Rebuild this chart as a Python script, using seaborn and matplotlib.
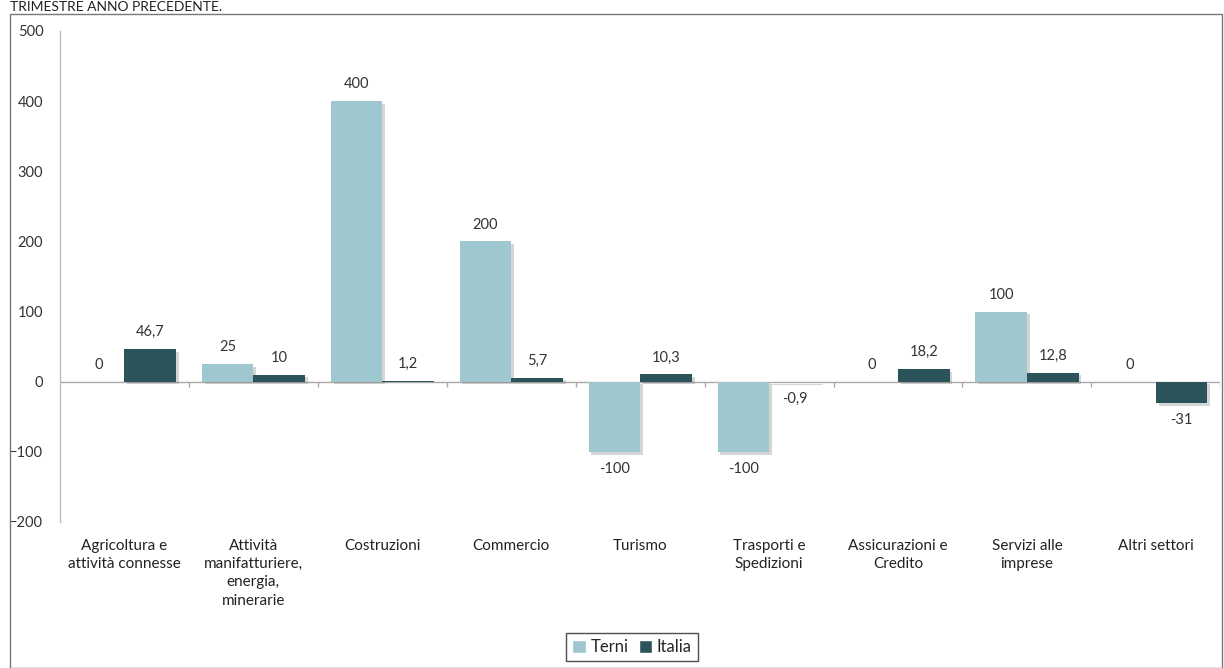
import matplotlib
matplotlib.use("Agg")
import matplotlib.pyplot as plt
import matplotlib.patheffects as pe
from matplotlib.patches import Rectangle
import seaborn as sns
import pandas as pd

categories = [
    "Agricoltura e\nattività connesse",
    "Attività\nmanifatturiere,\nenergia,\nminerarie",
    "Costruzioni",
    "Commercio",
    "Turismo",
    "Trasporti e\nSpedizioni",
    "Assicurazioni e\nCredito",
    "Servizi alle\nimprese",
    "Altri settori",
]
terni = [0, 25, 400, 200, -100, -100, 0, 100, 0]
italia = [46.7, 10, 1.2, 5.7, 10.3, -0.9, 18.2, 12.8, -31]
series_names = ["Terni", "Italia"]
yticks = [-200, -100, 0, 100, 200, 300, 400, 500]
title_text = "TRIMESTRE ANNO PRECEDENTE."

colors = {"Terni": "#9FC7CF", "Italia": "#2B545A"}

df = pd.DataFrame({
    "settore": categories * 2,
    "valore": terni + italia,
    "area": [series_names[0]] * len(categories) + [series_names[1]] * len(categories),
})

sns.set_style("white")
plt.rcParams["font.family"] = ["Lato", "DejaVu Sans"]

fig = plt.figure(figsize=(12.24, 6.68), dpi=100)
ax = fig.add_axes([0.049, 0.2186, 0.948, 0.735])

sns.barplot(data=df, x="settore", y="valore", hue="area", order=categories,
            hue_order=series_names, palette=colors, saturation=1, width=0.8,
            ax=ax, legend=True)

shadow = [pe.SimplePatchShadow(offset=(2, -2), shadow_rgbFace="#777777", alpha=0.3), pe.Normal()]
for cont in ax.containers:
    for p in cont:
        p.set_path_effects(shadow)
        p.set_edgecolor("none")

def fmt(v):
    return ("%g" % v).replace(".", ",")

for cont, vals in zip(ax.containers, [terni, italia]):
    ax.bar_label(cont, labels=[fmt(v) for v in vals], padding=7,
                 fontsize=10.5, color="#333333")

ax.set_ylim(yticks[0], yticks[-1])
ax.set_yticks(yticks)
ax.set_xlim(-0.5, len(categories) - 0.5)
ax.set_xlabel("")
ax.set_ylabel("")
ax.tick_params(axis="y", length=0, pad=12, labelsize=10.5, labelcolor="#333333")
ax.tick_params(axis="x", length=0, pad=12, labelsize=11, labelcolor="#222222")
for lab in ax.get_xticklabels():
    lab.set_linespacing(1.4)
    lab.set_verticalalignment("top")

for s in ["top", "right", "bottom"]:
    ax.spines[s].set_visible(False)
ax.spines["left"].set_color("#BBBBBB")
ax.spines["left"].set_linewidth(1)

ax.axhline(0, color="#AAAAAA", lw=1, zorder=0.5)
bounds = [i + 0.5 for i in range(len(categories))]
ax.vlines(bounds, -8, 0, color="#AAAAAA", lw=1, zorder=0.5)

handles, labels = ax.get_legend_handles_labels()
ax.get_legend().remove()
leg = fig.legend(handles, labels, loc="center", bbox_to_anchor=(632 / 1224, 1 - 647 / 668),
                 ncol=2, frameon=True, fancybox=False, edgecolor="#222222",
                 handlelength=0.8, handleheight=0.8, handletextpad=0.3,
                 columnspacing=0.6, fontsize=12, borderpad=0.35)
leg.get_frame().set_linewidth(1)

fig.patches.append(Rectangle((10 / 1224, 0), 1212 / 1224, 1 - 14 / 668,
                             transform=fig.transFigure, fill=False,
                             edgecolor="#777777", lw=1))
fig.text(10 / 1224, 1 - 7 / 668, title_text, fontsize=10, color="#222222",
         va="center", ha="left")

fig.savefig("out.png", dpi=100)
